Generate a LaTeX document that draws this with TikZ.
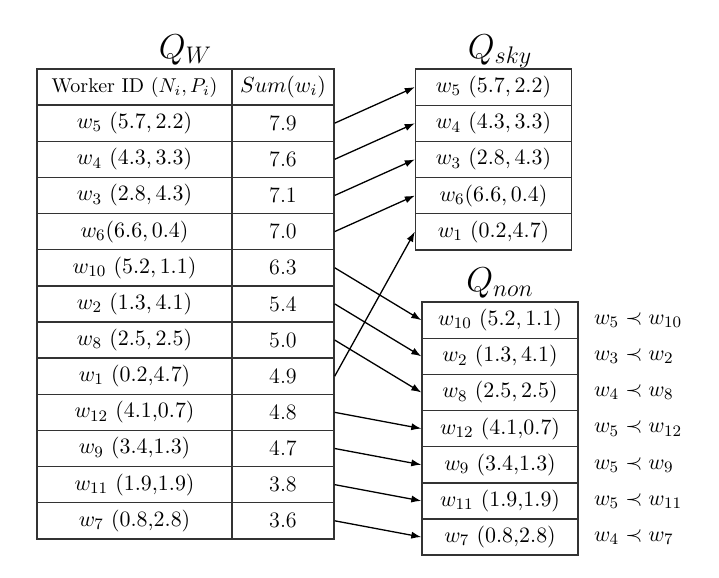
\documentclass[tikz,border=0pt]{standalone}
\usetikzlibrary{arrows.meta}
\tikzset{
  cell/.style={draw=black!80,line width=0.7pt,inner sep=0pt,minimum height=18.08pt,font=\fontsize{11}{13}\selectfont},
  idcell/.style={cell,minimum width=97.5pt},
  sumcell/.style={cell,minimum width=51pt},
  qcell/.style={cell,minimum width=78pt},
  title/.style={anchor=base,font=\fontsize{17}{20}\selectfont},
  arr/.style={-{Latex[length=5pt,width=3.6pt]},line width=0.65pt},
  rel/.style={anchor=west,font=\fontsize{11}{13}\selectfont}
}

\begin{document}
\begin{tikzpicture}[x=0.5pt,y=-0.5pt]
\useasboundingbox (0,0) rectangle (719,578);
\node[title] (qw) at (185.5,58) {$Q_W$};
\node[title] (qsky) at (500,58) {$Q_{sky}$};
\node[title] (qnon) at (500,291) {$Q_{non}$};
\node[idcell] (H1) at (134.5,87) {\fontsize{10}{12}\selectfont Worker ID $(N_i, P_i)$};
\node[sumcell] (H2) at (283,87) {$Sum(w_i)$};
\foreach \i/\id/\s in {1/{$w_5\ (5.7, 2.2)$}/7.9, 2/{$w_4\ (4.3, 3.3)$}/7.6,
    3/{$w_3\ (2.8, 4.3)$}/7.1, 4/{$w_6(6.6, 0.4)$}/7.0,
    5/{$w_{10}\ (5.2, 1.1)$}/6.3, 6/{$w_2\ (1.3, 4.1)$}/5.4,
    7/{$w_8\ (2.5, 2.5)$}/5.0, 8/{$w_1\ (0.2{,}4.7)$}/4.9,
    9/{$w_{12}\ (4.1{,}0.7)$}/4.8, 10/{$w_9\ (3.4{,}1.3)$}/4.7,
    11/{$w_{11}\ (1.9{,}1.9)$}/3.8, 12/{$w_7\ (0.8{,}2.8)$}/3.6} {
  \node[idcell] (W\i) at (134.5,{87+36.15*\i}) {\id};
  \node[sumcell] (S\i) at (283,{87+36.15*\i}) {\s};
}
\foreach \i/\id in {1/{$w_5\ (5.7, 2.2)$}, 2/{$w_4\ (4.3, 3.3)$},
    3/{$w_3\ (2.8, 4.3)$}, 4/{$w_6(6.6, 0.4)$}, 5/{$w_1\ (0.2{,}4.7)$}}
  \node[qcell] (K\i) at (493.5,{51+36.15*\i}) {\id};
\foreach \i/\id/\rl in {1/{$w_{10}\ (5.2, 1.1)$}/{$w_5\prec w_{10}$},
    2/{$w_2\ (1.3, 4.1)$}/{$w_3\prec w_2$},
    3/{$w_8\ (2.5, 2.5)$}/{$w_4\prec w_8$},
    4/{$w_{12}\ (4.1{,}0.7)$}/{$w_5\prec w_{12}$},
    5/{$w_9\ (3.4{,}1.3)$}/{$w_5\prec w_9$},
    6/{$w_{11}\ (1.9{,}1.9)$}/{$w_5\prec w_{11}$},
    7/{$w_7\ (0.8{,}2.8)$}/{$w_4\prec w_7$}} {
  \node[qcell] (N\i) at (500,{284+36.15*\i}) {\id};
  \node[rel] (R\i) at (587,{284+36.15*\i}) {\rl};
}
\foreach \a/\b in {S1/K1,S2/K2,S3/K3,S4/K4,S5/N1,S6/N2,S7/N3,S8/K5,
    S9/N4,S10/N5,S11/N6,S12/N7}
  \draw[arr] (\a.east) -- (\b.west);
\end{tikzpicture}
\end{document}
